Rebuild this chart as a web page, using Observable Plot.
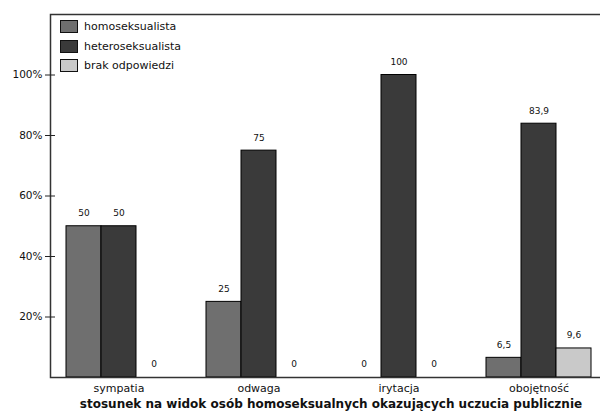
<!DOCTYPE html>
<html><head><meta charset="utf-8">
<script src="https://cdn.jsdelivr.net/npm/d3@7"></script>
<script src="https://cdn.jsdelivr.net/npm/@observablehq/plot@0.6"></script>
<style>
body{margin:0;background:#fff;font-family:"DejaVu Sans",sans-serif;}
#wrap{position:relative;width:600px;height:415px;overflow:hidden;background:#fff;}
#wrap svg{display:block;max-width:none !important;}
#legend{position:absolute;left:60px;top:17px;font-size:11px;color:#111;}
.row{display:flex;align-items:center;height:19.5px;}
.sw{width:16px;height:11px;border:1px solid #111;margin-right:6px;}
</style></head><body><div id="wrap"></div>
<script>
const categories = ["sympatia","odwaga","irytacja","obojętność"];
const series = ["homoseksualista","heteroseksualista","brak odpowiedzi"];
const homo = [50,25,0,6.5];
const hetero = [50,75,100,83.9];
const brak = [0,0,0,9.6];
const yTicks = [20,40,60,80,100];
const colors = ["#6f6f6f","#3a3a3a","#c9c9c9"];
const xTitle = "stosunek na widok osób homoseksualnych okazujących uczucia publicznie";

const data = categories.flatMap((c,i)=>[homo,hetero,brak].map((arr,j)=>({category:c, series:series[j], value:arr[i]})));
const fmt = v => String(v).replace(".", ",");

const chart = Plot.plot({
  width:607, height:415, marginLeft:50, marginTop:14, marginBottom:38, marginRight:0,
  style:{fontFamily:"DejaVu Sans", background:"#fff", color:"#111", maxWidth:"none"},
  fx:{domain:categories, paddingInner:0.022, paddingOuter:0, label:null},
  x:{domain:series, paddingInner:0, paddingOuter:0.424, axis:null},
  y:{domain:[0,120], axis:null},
  color:{domain:series, range:colors},
  marks:[
    Plot.barY(data,{fx:"category", x:"series", y:"value", fill:"series", stroke:"#000", strokeWidth:1}),
    Plot.text(data,{fx:"category", x:"series", y:"value", text:d=>fmt(d.value), dy:-13, fontSize:9, fill:"#111"}),
    Plot.frame({facet:"super", stroke:"#333", strokeWidth:1.5}),
    Plot.axisY(yTicks,{tickSize:10, dx:5, tickPadding:3, tickFormat:d=>d+"%", fontSize:10.5, label:null, stroke:"#222"}),
    Plot.axisFx({anchor:"bottom", tickSize:0, tickPadding:7, fontSize:11, label:null}),
    Plot.text([xTitle],{facet:"super", text:d=>d, frameAnchor:"bottom", dy:30, dx:2, fontWeight:"bold", fontSize:12, fill:"#111"})
  ]
});
const wrap = document.getElementById("wrap");
wrap.appendChild(chart);
const lg = document.createElement("div");
lg.id = "legend";
series.forEach((s,i)=>{
  const r = document.createElement("div"); r.className="row";
  const sw = document.createElement("div"); sw.className="sw"; sw.style.background=colors[i];
  const t = document.createElement("span"); t.textContent=s;
  r.appendChild(sw); r.appendChild(t); lg.appendChild(r);
});
wrap.appendChild(lg);
</script></body></html>
